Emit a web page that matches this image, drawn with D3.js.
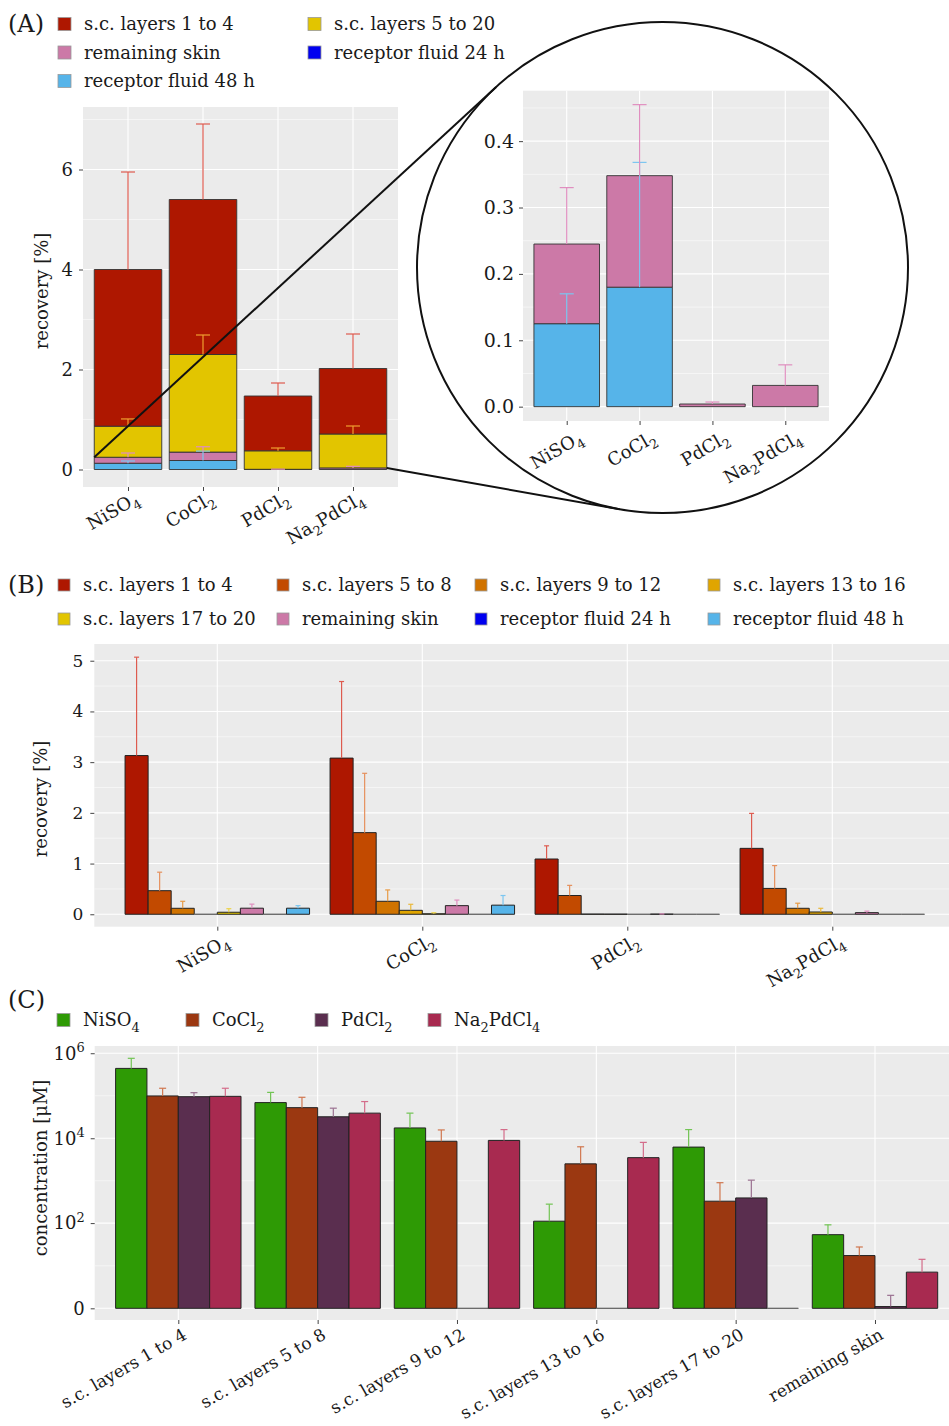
<!DOCTYPE html>
<html><head><meta charset="utf-8">
<script src="https://cdn.jsdelivr.net/npm/d3@7"></script>
<style>
body{margin:0;background:#fff}
svg text{font-family:"DejaVu Serif",serif;fill:#1a1a1a}
</style></head><body>
<svg id="fig" width="949" height="1426"></svg>
<script>
// ---- data ----
const compounds = ["NiSO_4", "CoCl_2", "PdCl_2", "Na_2PdCl_4"];

// panel A, stacked from bottom to top
const aRf48 = [0.125, 0.18, 0, 0],      aRf48Sd = [0.045, 0.188, 0, 0];
const aRf24 = [0, 0, 0, 0],             aRf24Sd = [0, 0, 0, 0];
const aRs = [0.12, 0.168, 0.004, 0.032], aRsSd = [0.085, 0.107, 0.003, 0.031];
const aSc520 = [0.621, 1.952, 0.37, 0.678], aSc520Sd = [0.145, 0.39, 0.056, 0.16];
const aSc14 = [3.134, 3.10, 1.096, 1.31],  aSc14Sd = [1.95, 1.51, 0.26, 0.69];

// panel B, dodged
const bSc14 = [3.13, 3.08, 1.09, 1.30],    bSc14Sd = [1.94, 1.51, 0.26, 0.69];
const bSc58 = [0.465, 1.61, 0.37, 0.51],   bSc58Sd = [0.365, 1.17, 0.2, 0.45];
const bSc912 = [0.118, 0.256, 0.004, 0.118], bSc912Sd = [0.138, 0.224, 0, 0.1];
const bSc1316 = [0, 0.078, 0.003, 0.045],  bSc1316Sd = [0, 0.119, 0, 0.073];
const bSc1720 = [0.04, 0.01, 0, 0],        bSc1720Sd = [0.07, 0.02, 0, 0];
const bRs = [0.12, 0.17, 0.004, 0.032],    bRsSd = [0.08, 0.11, 0.003, 0.03];
const bRf24 = [0, 0, 0, 0],                bRf24Sd = [0, 0, 0, 0];
const bRf48 = [0.12, 0.18, 0, 0],          bRf48Sd = [0.05, 0.19, 0, 0];

// panel C, concentration in µM
const layers = ["s.c. layers 1 to 4", "s.c. layers 5 to 8", "s.c. layers 9 to 12",
  "s.c. layers 13 to 16", "s.c. layers 17 to 20", "remaining skin"];
const cNi = [4.4e5, 6.9e4, 1.75e4, 111, 6.2e3, 53],  cNiSd = [3.2e5, 5.1e4, 2.15e4, 170, 9.8e3, 38];
const cCo = [9.9e4, 5.25e4, 8.5e3, 2.5e3, 330, 16.4], cCoSd = [5.1e4, 3.95e4, 7.2e3, 3.8e3, 570, 10.3];
const cPd = [9.5e4, 3.2e4, 0, 0, 394, 0.1],           cPdSd = [2.3e4, 1.9e4, 0, 0, 640, 0.92];
const cNa = [9.7e4, 3.9e4, 8.9e3, 3.5e3, 0, 6.1],     cNaSd = [5.3e4, 3.4e4, 7.1e3, 4.5e3, 0, 7.1];

const ticksA = [0, 2, 4, 6], ticksInset = [0, 0.1, 0.2, 0.3, 0.4];
const ticksB = [0, 1, 2, 3, 4, 5], ticksC = [0, 1e2, 1e4, 1e6];

// ---- colours ----
const colSc14 = "#AE1700", colSc58 = "#C24A00", colSc912 = "#D07300", colSc1316 = "#E0A500",
  colSc1720 = "#E2C500", colRs = "#CC79A7", colRf24 = "#0000F0", colRf48 = "#56B4E9";
const errSc14 = "#DE5B4F", errSc58 = "#E5905C", errSc912 = "#E89B45", errSc1316 = "#EAB93C",
  errSc1720 = "#EBD24A", errSc520 = "#EE9F2F", errRs = "#E08EBF", errRf48 = "#7CC6F0";
const colNi = "#2E9A05", colCo = "#9B3811", colPd = "#5A2E4F", colNa = "#A82A50";
const errNi = "#72C454", errCo = "#D0774F", errPd = "#9A7090", errNa = "#D46C8A";

const svg = d3.select("#fig");

// label with _sub and ^sup digits
function rich(sel, label, fs) {
  sel.text(null);
  const parts = label.split(/([_^]\d+)/).filter(s => s);
  let shift = 0;
  parts.forEach(p => {
    if (p[0] === "_" || p[0] === "^") {
      const off = p[0] === "_" ? fs * 0.3 : -fs * 0.42;
      sel.append("tspan").attr("dy", off - shift).attr("font-size", fs * 0.72).text(p.slice(1));
      shift = off;
    } else {
      const t = sel.append("tspan").text(p);
      if (shift) t.attr("dy", -shift);
      shift = 0;
    }
  });
}

function barPath(x0, x1, y0, y1) {
  return `M${x0},${y0}H${x1}V${y1}H${x0}Z`;
}

function panel(x, y, x0, x1, majors, minors) {
  const [yb, yt] = y.range();
  const g = svg.append("g");
  g.append("rect").attr("x", x0).attr("y", yt).attr("width", x1 - x0).attr("height", yb - yt).attr("fill", "#EBEBEB");
  g.selectAll(".mn").data(minors).join("line")
    .attr("x1", x0).attr("x2", x1).attr("y1", d => y(d)).attr("y2", d => y(d))
    .attr("stroke", "#fff").attr("stroke-width", 0.5);
  g.selectAll(".mj").data(majors).join("line")
    .attr("x1", x0).attr("x2", x1).attr("y1", d => y(d)).attr("y2", d => y(d))
    .attr("stroke", "#fff").attr("stroke-width", 1.1);
  g.selectAll(".vx").data(x.domain()).join("line")
    .attr("x1", d => x(d)).attr("x2", d => x(d)).attr("y1", yt).attr("y2", yb)
    .attr("stroke", "#fff").attr("stroke-width", 1.1);
}

function yAxis(scale, x, ticks, fs, pad, fmt) {
  const ax = d3.axisLeft(scale).tickValues(ticks).tickSize(4).tickPadding(pad);
  if (fmt) ax.tickFormat(fmt);
  const a = svg.append("g").attr("transform", `translate(${x},0)`).call(ax);
  a.select(".domain").remove();
  a.selectAll("line").attr("stroke", "#444");
  a.selectAll("text").attr("font-size", fs).attr("fill", "#1a1a1a");
  return a;
}

function xAxis(scale, y, fs, off) {
  const a = svg.append("g").attr("transform", `translate(0,${y})`).call(d3.axisBottom(scale).tickSize(4));
  a.select(".domain").remove();
  a.selectAll("line").attr("stroke", "#444");
  a.selectAll("text").attr("font-size", fs).attr("y", 0).attr("dy", null).attr("text-anchor", "end")
    .attr("transform", `translate(${off[0]},${off[1]}) rotate(-30)`)
    .each(function (d) { rich(d3.select(this), d, fs); });
}

function yTitle(text, x, y, fs) {
  svg.append("text").attr("transform", `translate(${x},${y}) rotate(-90)`)
    .attr("text-anchor", "middle").attr("dominant-baseline", "central")
    .attr("font-size", fs).text(text);
}

function errBar(g, cx, y0, y1, cap, color) {
  g.append("line").attr("x1", cx).attr("x2", cx).attr("y1", y0).attr("y2", y1).attr("stroke", color).attr("stroke-width", 1.2);
  g.append("line").attr("x1", cx - cap / 2).attr("x2", cx + cap / 2).attr("y1", y1).attr("y2", y1).attr("stroke", color).attr("stroke-width", 1.2);
}

function legend(items, xs, ys, size, fs) {
  items.forEach((it, i) => {
    const x = xs[i % xs.length], y = ys[Math.floor(i / xs.length)];
    svg.append("rect").attr("x", x).attr("y", y - size / 2).attr("width", size).attr("height", size)
      .attr("fill", it[1]).attr("stroke", "#999").attr("stroke-width", 0.8);
    const t = svg.append("text").attr("x", x + size + 13).attr("y", y).attr("dy", "0.35em").attr("font-size", fs);
    rich(t, it[0], fs);
  });
}

// ================= Panel A =================
svg.append("text").attr("x", 8).attr("y", 32).attr("font-size", 24).text("(A)");
legend([["s.c. layers 1 to 4", colSc14], ["s.c. layers 5 to 20", colSc1720], ["remaining skin", colRs],
  ["receptor fluid 24 h", colRf24], ["receptor fluid 48 h", colRf48]], [58, 308], [24, 52.5, 81], 13, 18);

const xA = d3.scalePoint().domain(compounds).range([83, 398]).padding(0.6);
const yA = d3.scaleLinear().domain([-0.35, 7.25]).range([487, 107]);
const bwA = xA.step() * 0.9;
panel(xA, yA, 83, 398, ticksA, [1, 3, 5, 7]);

const aKeys = ["rf48", "rf24", "rs", "sc520", "sc14"];
const aVals = [aRf48, aRf24, aRs, aSc520, aSc14];
const aSds = [aRf48Sd, aRf24Sd, aRsSd, aSc520Sd, aSc14Sd];
const aFill = [colRf48, colRf24, colRs, colSc1720, colSc14];
const aErr = [errRf48, colRf24, errRs, errSc520, errSc14];
const tableA = compounds.map((c, i) => {
  const o = { compound: c };
  aKeys.forEach((k, j) => o[k] = aVals[j][i]);
  return o;
});
const stackA = d3.stack().keys(aKeys)(tableA);

function drawStack(stack, x, y, bw, cap, g) {
  stack.forEach((s, j) => {
    g.selectAll(null).data(s).join("path")
      .attr("d", d => barPath(x(d.data.compound) - bw / 2, x(d.data.compound) + bw / 2, y(d[0]), y(d[1])))
      .attr("fill", aFill[j]).attr("stroke", "#333").attr("stroke-width", 0.9)
      .style("display", d => d[1] - d[0] > 0 ? null : "none");
  });
  stack.forEach((s, j) => {
    s.forEach((d, i) => {
      const sd = aSds[j][i];
      if (sd > 0) errBar(g, x(d.data.compound), y(d[1]), y(d[1] + sd), cap, aErr[j]);
    });
  });
}
drawStack(stackA, xA, yA, bwA, 14, svg.append("g"));

yAxis(yA, 83, ticksA, 18, 6);
xAxis(xA, 487, 18, [12, 15]);
yTitle("recovery [%]", 41, 291, 18);

// ---- inset ----
const circ = { cx: 662.5, cy: 267.5, r: 245.5 };
svg.append("circle").attr("cx", circ.cx).attr("cy", circ.cy).attr("r", circ.r)
  .attr("fill", "#fff").attr("stroke", "#111").attr("stroke-width", 2);

const xI = d3.scalePoint().domain(compounds).range([523, 829]).padding(0.6);
const yI = d3.scaleLinear().domain([-0.0216, 0.476]).range([421, 90.7]);
panel(xI, yI, 523, 829, ticksInset, [0.05, 0.15, 0.25, 0.35, 0.45]);
const stackI = d3.stack().keys(aKeys.slice(0, 3))(tableA);
drawStack(stackI, xI, yI, xI.step() * 0.9, 14, svg.append("g"));
yAxis(yI, 523, ticksInset, 19, 5, d3.format(".1f"));
xAxis(xI, 421, 18, [17, 20]);

// zoom connector lines, tangent to the circle
function tangent(px, py, upper) {
  const dx = px - circ.cx, dy = py - circ.cy, d = Math.hypot(dx, dy);
  const th = Math.atan2(dy, dx), al = Math.acos(circ.r / d);
  const p1 = [circ.cx + circ.r * Math.cos(th + al), circ.cy + circ.r * Math.sin(th + al)];
  const p2 = [circ.cx + circ.r * Math.cos(th - al), circ.cy + circ.r * Math.sin(th - al)];
  return upper ? (p1[1] < p2[1] ? p1 : p2) : (p1[1] > p2[1] ? p1 : p2);
}
const topNi = stackA[2][0][1], topNa = stackA[2][3][1];
const s1 = [xA(compounds[0]) - bwA / 2, yA(topNi)], s2 = [xA(compounds[3]) + bwA / 2, yA(topNa)];
const t1 = tangent(s1[0], s1[1], true), t2 = tangent(s2[0], s2[1], false);
svg.append("line").attr("x1", s1[0]).attr("y1", s1[1]).attr("x2", t1[0]).attr("y2", t1[1]).attr("stroke", "#111").attr("stroke-width", 2);
svg.append("line").attr("x1", s2[0]).attr("y1", s2[1]).attr("x2", t2[0]).attr("y2", t2[1]).attr("stroke", "#111").attr("stroke-width", 2);

// ================= Panel B =================
svg.append("text").attr("x", 8).attr("y", 593).attr("font-size", 24).text("(B)");
const bNames = ["s.c. layers 1 to 4", "s.c. layers 5 to 8", "s.c. layers 9 to 12", "s.c. layers 13 to 16",
  "s.c. layers 17 to 20", "remaining skin", "receptor fluid 24 h", "receptor fluid 48 h"];
const bVals = [bSc14, bSc58, bSc912, bSc1316, bSc1720, bRs, bRf24, bRf48];
const bSds = [bSc14Sd, bSc58Sd, bSc912Sd, bSc1316Sd, bSc1720Sd, bRsSd, bRf24Sd, bRf48Sd];
const bFill = [colSc14, colSc58, colSc912, colSc1316, colSc1720, colRs, colRf24, colRf48];
const bErr = [errSc14, errSc58, errSc912, errSc1316, errSc1720, errRs, colRf24, errRf48];
legend(bNames.map((n, i) => [n, bFill[i]]), [58, 277, 475, 708], [585, 619], 12, 18);

const xB = d3.scalePoint().domain(compounds).range([94.3, 955.3]).padding(0.6);
const yB = d3.scaleLinear().domain([-0.245, 5.33]).range([926.7, 644]);
panel(xB, yB, 94.3, 955.3, ticksB, [0.5, 1.5, 2.5, 3.5, 4.5]);
const xBin = d3.scaleBand().domain(d3.range(bNames.length)).range([-xB.step() * 0.45, xB.step() * 0.45]);
const gB = svg.append("g");
bVals.forEach((vals, j) => {
  gB.selectAll(null).data(vals).join("path")
    .attr("d", (v, i) => {
      const x0 = xB(compounds[i]) + xBin(j);
      return barPath(x0, x0 + xBin.bandwidth(), yB(0), yB(v));
    })
    .attr("fill", bFill[j]).attr("stroke", v => v > 0 ? "#222" : "#666").attr("stroke-width", 1);
});
bVals.forEach((vals, j) => vals.forEach((v, i) => {
  if (bSds[j][i] > 0) errBar(gB, xB(compounds[i]) + xBin(j) + xBin.bandwidth() / 2, yB(v), yB(v + bSds[j][i]), 5, bErr[j]);
}));
yAxis(yB, 94.3, ticksB, 17, 7, d3.format("d"));
xAxis(xB, 926.7, 18, [13, 18]);
yTitle("recovery [%]", 40, 799, 18);

// ================= Panel C =================
svg.append("text").attr("x", 8).attr("y", 1008).attr("font-size", 24).text("(C)");
const cNames = ["NiSO_4", "CoCl_2", "PdCl_2", "Na_2PdCl_4"];
const cVals = [cNi, cCo, cPd, cNa], cSds = [cNiSd, cCoSd, cPdSd, cNaSd];
const cFill = [colNi, colCo, colPd, colNa], cErr = [errNi, errCo, errPd, errNa];
cNames.forEach((n, i) => {
  legend([[n, cFill[i]]], [[57, 186, 315, 428][i]], [1020], 13, 18);
});

const xC = d3.scalePoint().domain(layers).range([94.7, 958.6]).padding(0.6);
const yC = d3.scaleSymlog().constant(1).domain([-0.883, 1.48e6]).range([1320, 1046]);
panel(xC, yC, 94.7, 958.6, ticksC, [9, 1e3, 1e5]);
const xCin = d3.scaleBand().domain(d3.range(cNames.length)).range([-xC.step() * 0.45, xC.step() * 0.45]);
const gC = svg.append("g");
cVals.forEach((vals, j) => {
  gC.selectAll(null).data(vals).join("path")
    .attr("d", (v, i) => {
      const x0 = xC(layers[i]) + xCin(j);
      return barPath(x0, x0 + xCin.bandwidth(), yC(0), yC(v));
    })
    .attr("fill", cFill[j]).attr("stroke", v => v > 0 ? "#222" : "#666").attr("stroke-width", 1);
});
cVals.forEach((vals, j) => vals.forEach((v, i) => {
  if (cSds[j][i] > 0) errBar(gC, xC(layers[i]) + xCin(j) + xCin.bandwidth() / 2, yC(v), yC(v + cSds[j][i]), 7, cErr[j]);
}));
yAxis(yC, 94.7, ticksC, 18, 6, d => d === 0 ? "0" : "10^" + Math.round(Math.log10(d)))
  .selectAll("text").each(function (d) { rich(d3.select(this), d === 0 ? "0" : "10^" + Math.round(Math.log10(d)), 18); });
xAxis(xC, 1320, 17, [9, 18]);
yTitle("concentration [μM]", 40, 1168, 18);
</script>
</body></html>
